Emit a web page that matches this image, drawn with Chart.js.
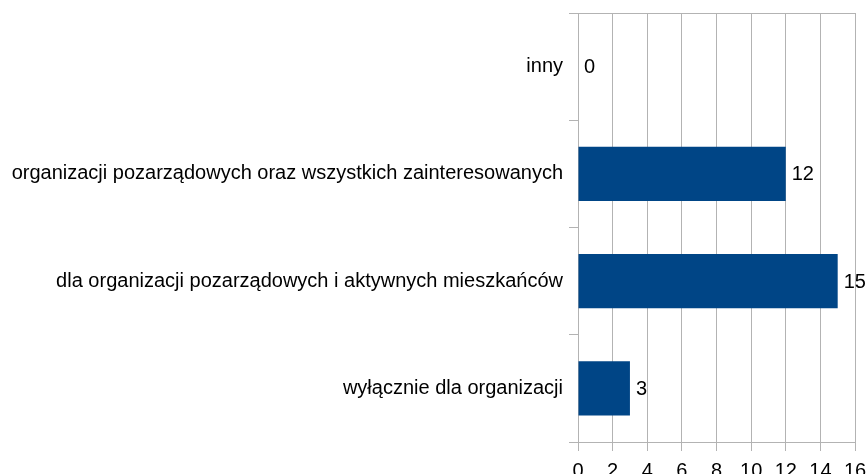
<!DOCTYPE html>
<html><head><meta charset="utf-8">
<script src="https://cdn.jsdelivr.net/npm/chart.js@4/dist/chart.umd.min.js"></script>
<style>html,body{margin:0;padding:0;background:#fff;overflow:hidden}#wrap{width:868px;height:474px;position:relative}</style>
</head><body><div id="wrap"><canvas id="c"></canvas></div>
<script>
const categories = ["inny", "organizacji pozarządowych oraz wszystkich zainteresowanych", "dla organizacji pozarządowych i aktywnych mieszkańców", "wyłącznie dla organizacji"];
const values = [0, 12, 15, 3];
const xMin = 0, xMax = 16, xStep = 2;

const FONT = "'Liberation Sans', Arial, sans-serif";
const GRID = '#b3b3b3';

const valueLabels = {
  id: 'valueLabels',
  afterDatasetsDraw(chart) {
    const ctx = chart.ctx;
    const meta = chart.getDatasetMeta(0);
    ctx.save();
    ctx.font = '20px ' + FONT;
    ctx.fillStyle = '#000';
    ctx.textAlign = 'left';
    ctx.textBaseline = 'middle';
    meta.data.forEach((bar, i) => {
      ctx.fillText(String(values[i]), bar.x + 6, bar.y + 1);
    });
    ctx.restore();
  }
};

// top frame line of the plot area (from the y-axis tick to the right edge)
const topFrame = {
  id: 'topFrame',
  beforeDatasetsDraw(chart) {
    const a = chart.chartArea, ctx = chart.ctx;
    ctx.save();
    ctx.strokeStyle = GRID; ctx.lineWidth = 1;
    ctx.beginPath();
    ctx.moveTo(a.left - 9, Math.round(a.top) + 0.5);
    ctx.lineTo(a.right + 0.5, Math.round(a.top) + 0.5);
    ctx.stroke();
    ctx.restore();
  }
};

new Chart(document.getElementById('c'), {
  type: 'bar',
  data: {
    labels: categories,
    datasets: [{ data: values, backgroundColor: '#004586', borderWidth: 0,
      categoryPercentage: 1.0, barPercentage: 0.505 }]
  },
  options: {
    indexAxis: 'y',
    responsive: true,
    maintainAspectRatio: false,
    animation: false,
    layout: { padding: { top: 13, right: 13, left: 0, bottom: 0 } },
    plugins: { legend: { display: false }, tooltip: { enabled: false } },
    scales: {
      x: {
        min: xMin, max: xMax,
        ticks: { stepSize: xStep, color: '#000', font: { family: FONT, size: 20 }, padding: 8, maxRotation: 0 },
        grid: { color: GRID, tickColor: GRID, tickLength: 9, lineWidth: 1 },
        border: { color: GRID, width: 1 },
        afterFit: s => { s.height = 32; s.paddingLeft = 0; s.paddingRight = 0; }
      },
      y: {
        ticks: { color: '#000', font: { family: FONT, size: 20 }, padding: 6 },
        grid: {
          offset: true,
          color: c => (c.index === 0 || c.type !== 'tick') ? GRID : 'rgba(0,0,0,0)',
          tickColor: GRID, tickLength: 9, lineWidth: 1
        },
        border: { color: GRID, width: 1 },
        afterFit: s => { s.width = 578; s.paddingTop = 0; s.paddingBottom = 0; }
      }
    }
  },
  plugins: [valueLabels, topFrame]
});
</script></body></html>
